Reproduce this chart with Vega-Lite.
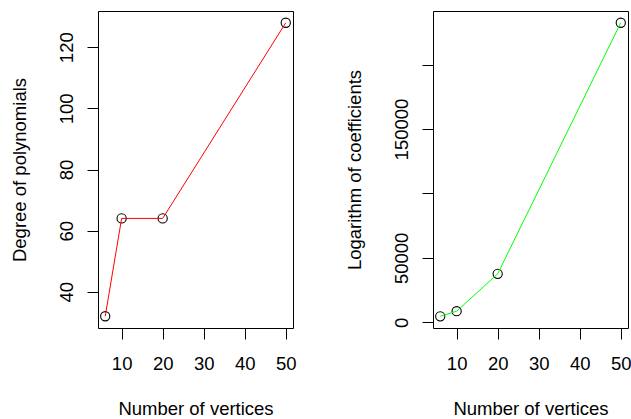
{
  "$schema": "https://vega.github.io/schema/vega-lite/v6.json",
  "padding": {"left": 9, "top": 10, "right": 0, "bottom": 0},
  "bounds": "flush",
  "spacing": 140,
  "background": "white",
  "config": {
    "view": {"stroke": "black", "strokeWidth": 1},
    "font": "Liberation Sans",
    "axis": {
      "domain": false, "grid": false,
      "tickColor": "black", "tickSize": 11, "tickWidth": 1,
      "labelColor": "black", "labelFontSize": 18.5, "labelFont": "Liberation Sans",
      "titleFontSize": 18.5, "titleFont": "Liberation Sans", "titleFontWeight": "normal", "titleColor": "black",
      "labelOverlap": false, "labelFlush": false
    },
    "axisX": {"labelAngle": 0, "labelBaseline": "top", "labelAlign": "center", "labelPadding": 15.5, "titleBaseline": "alphabetic", "titleY": 86},
    "axisY": {"labelAngle": -90, "labelAlign": "center", "labelBaseline": "alphabetic", "labelPadding": 14.5, "titleAngle": -90, "titleBaseline": "alphabetic", "titleX": -73}
  },
  "data": {"values": [
    {"n": 6, "degree": 32, "logcoef": 4600},
    {"n": 10, "degree": 64, "logcoef": 8600},
    {"n": 20, "degree": 64, "logcoef": 37600},
    {"n": 50, "degree": 128, "logcoef": 232500}
  ]},
  "hconcat": [
    {
      "width": 195, "height": 317,
      "layer": [
        {
          "mark": {"type": "point", "shape": "circle", "filled": false, "color": "black", "size": 85, "strokeWidth": 1.1, "opacity": 1},
          "encoding": {
            "x": {"field": "n", "type": "quantitative", "scale": {"domain": [4.24, 51.76], "nice": false, "zero": false}, "axis": {"values": [10, 20, 30, 40, 50], "title": "Number of vertices"}},
            "y": {"field": "degree", "type": "quantitative", "scale": {"domain": [28.16, 131.84], "nice": false, "zero": false}, "axis": {"values": [40, 60, 80, 100, 120], "title": "Degree of polynomials"}}
          }
        },
        {
          "mark": {"type": "line", "color": "#FF0000", "strokeWidth": 1},
          "encoding": {
            "x": {"field": "n", "type": "quantitative"},
            "y": {"field": "degree", "type": "quantitative"}
          }
        }
      ]
    },
    {
      "width": 195, "height": 317,
      "layer": [
        {
          "mark": {"type": "point", "shape": "circle", "filled": false, "color": "black", "size": 85, "strokeWidth": 1.1, "opacity": 1},
          "encoding": {
            "x": {"field": "n", "type": "quantitative", "scale": {"domain": [4.24, 51.76], "nice": false, "zero": false}, "axis": {"values": [10, 20, 30, 40, 50], "title": "Number of vertices"}},
            "y": {"field": "logcoef", "type": "quantitative", "scale": {"domain": [-4447, 241613], "nice": false, "zero": false}, "axis": {"values": [0, 50000, 100000, 150000, 200000], "format": "d", "labelExpr": "datum.value == 100000 || datum.value == 200000 ? '' : datum.label", "title": "Logarithm of coefficients"}}
          }
        },
        {
          "mark": {"type": "line", "color": "#00FF00", "strokeWidth": 1},
          "encoding": {
            "x": {"field": "n", "type": "quantitative"},
            "y": {"field": "logcoef", "type": "quantitative"}
          }
        }
      ]
    }
  ]
}
